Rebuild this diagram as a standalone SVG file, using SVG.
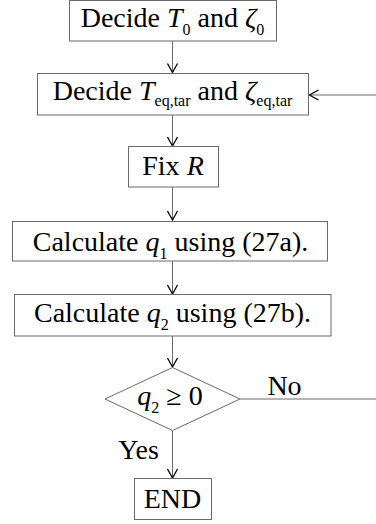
<svg xmlns="http://www.w3.org/2000/svg" width="376" height="524" viewBox="0 0 376 524">
<style>
.box{fill:#fff;stroke:#6a6a6a;stroke-width:1}
.ln{fill:none;stroke:#6a6a6a;stroke-width:1}
.t{font-family:"Liberation Serif","Times New Roman",serif;font-size:28px;fill:#000;text-anchor:middle}
.i{font-style:italic}
.s{font-size:16px}
</style>
<defs>
<marker id="ah" markerWidth="12" markerHeight="12" refX="10" refY="6" orient="auto" markerUnits="userSpaceOnUse">
<path d="M1,1 L10,6 L1,11" fill="none" stroke="#000" stroke-width="1.3"/>
</marker>
</defs>
<rect width="376" height="524" fill="#fff"/>
<g id="connectors">
<path class="ln" d="M172.5,41 V72.5" marker-end="url(#ah)"/>
<path class="ln" d="M172.5,115 V146" marker-end="url(#ah)"/>
<path class="ln" d="M172.5,187 V220" marker-end="url(#ah)"/>
<path class="ln" d="M172.5,261 V294" marker-end="url(#ah)"/>
<path class="ln" d="M172.5,336 V367" marker-end="url(#ah)"/>
<path class="ln" d="M172.5,431 V478" marker-end="url(#ah)"/>
<path class="ln" d="M240,399 H377 V95 H309.5" marker-end="url(#ah)"/>
</g>
<g id="n1">
<rect class="box" x="69.5" y="0.5" width="207" height="40.5"/>
<text class="t" x="172.5" y="27">Decide <tspan class="i">T</tspan><tspan class="s" dy="8">0</tspan><tspan dy="-8"> and </tspan><tspan class="i">ζ</tspan><tspan class="s" dy="8">0</tspan></text>
</g>
<g id="n2">
<rect class="box" x="37.5" y="73.5" width="271" height="41.5"/>
<text class="t" x="172.5" y="100">Decide <tspan class="i">T</tspan><tspan class="s" dy="6">eq,tar</tspan><tspan dy="-6"> and </tspan><tspan class="i">ζ</tspan><tspan class="s" dy="6">eq,tar</tspan></text>
</g>
<g id="n3">
<rect class="box" x="128.5" y="146.5" width="90" height="40.5"/>
<text class="t" x="173" y="175">Fix <tspan class="i">R</tspan></text>
</g>
<g id="n4">
<rect class="box" x="12.5" y="221.5" width="315" height="39.5"/>
<text class="t" x="170.5" y="251">Calculate <tspan class="i">q</tspan><tspan class="s" dy="8">1</tspan><tspan dy="-8"> using (27a).</tspan></text>
</g>
<g id="n5">
<rect class="box" x="14.5" y="294.5" width="316.5" height="41.5"/>
<text class="t" x="172.5" y="321.5">Calculate <tspan class="i">q</tspan><tspan class="s" dy="8">2</tspan><tspan dy="-8"> using (27b).</tspan></text>
</g>
<g id="n6">
<path class="box" d="M172.5,367.5 L240,399 L172.5,430.5 L105,399 Z"/>
<text class="t" x="170" y="405"><tspan class="i">q</tspan><tspan class="s" dy="8">2</tspan><tspan dy="-8"> ≥ 0</tspan></text>
</g>
<g id="n7">
<rect class="box" x="134.5" y="478.5" width="77" height="41"/>
<text class="t" x="172.5" y="508">END</text>
</g>
<text class="t" x="284.5" y="395">No</text>
<text class="t" x="138.5" y="459">Yes</text>
</svg>
